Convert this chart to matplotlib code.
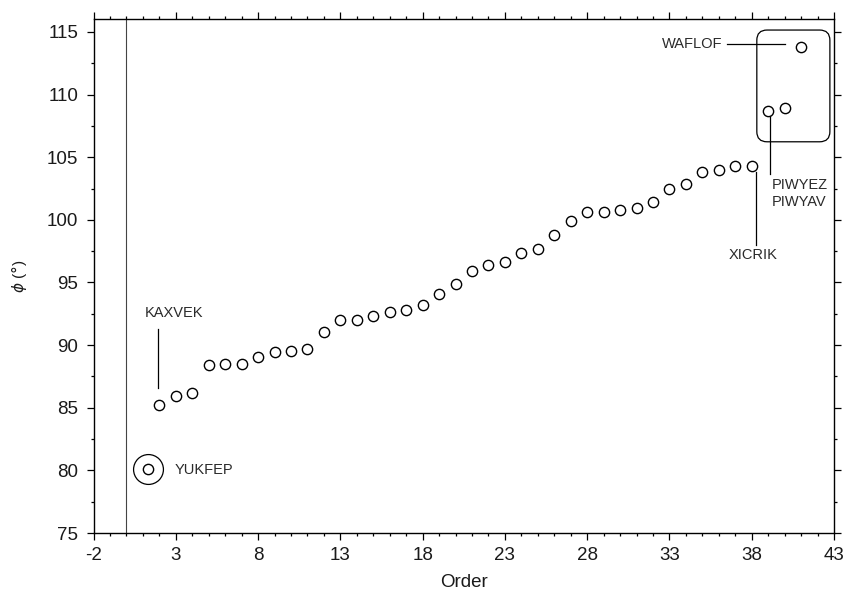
import matplotlib
matplotlib.use("Agg")
import matplotlib.pyplot as plt
import matplotlib.ticker as mticker
from matplotlib.patches import FancyBboxPatch
import numpy as np

plt.rcParams['font.family'] = ['Liberation Sans', 'DejaVu Sans']

# ---- data ----
order = list(range(2, 42))
phi = [85.20, 85.97, 86.21, 88.39, 88.50, 88.50, 89.01, 89.41, 89.54, 89.67,
       91.03, 92.04, 92.04, 92.31, 92.68, 92.83, 93.21, 94.07, 94.84, 95.94,
       96.36, 96.62, 97.36, 97.64, 98.75, 99.87, 100.64, 100.64, 100.78, 100.91,
       101.41, 102.43, 102.83, 103.81, 103.95, 104.31, 104.31, 108.68, 108.92, 113.82]
yukfep_order = 1.3
yukfep_phi = 80.14

x_ticks = list(range(-2, 44, 5))
y_ticks = list(range(75, 116, 5))

# labels: (text, text x, text y, ha, va, line x0, y0, x1, y1)
labels = [
    ("KAXVEK", 2.87, 92.6, "center", "center", 1.89, 91.25, 1.89, 86.6),
    ("XICRIK", 38.1, 97.2, "center", "center", 38.29, 103.83, 38.29, 98.0),
    ("PIWYEZ\nPIWYAV", 39.2, 102.1, "left", "center", 39.1, 108.4, 39.1, 103.65),
    ("WAFLOF", 36.25, 114.03, "right", "center", 36.52, 114.03, 40.03, 114.03),
    ("YUKFEP", 2.91, 80.06, "left", "center", None, None, None, None),
]

fig = plt.figure(figsize=(8.5, 5.96), dpi=100)
ax = fig.add_axes([93.5 / 850, 1 - 533 / 596, (834 - 93.5) / 850, (533 - 19.4) / 596])

ax.set_xlim(-2, 43)
ax.set_ylim(75, 116)

ax.plot(order, phi, linestyle='none', marker='o', markersize=7.4,
        markerfacecolor='white', markeredgecolor='black', markeredgewidth=1.0, zorder=3)
ax.plot([yukfep_order], [yukfep_phi], linestyle='none', marker='o', markersize=7.4,
        markerfacecolor='white', markeredgecolor='black', markeredgewidth=1.0, zorder=3)
ax.plot([yukfep_order], [yukfep_phi], linestyle='none', marker='o', markersize=21.5,
        markerfacecolor='none', markeredgecolor='black', markeredgewidth=0.9, zorder=3)

ax.axvline(0, color='#444444', linewidth=0.8)

for text, tx, ty, ha, va, x0, y0, x1, y1 in labels:
    ax.text(tx, ty, text, ha=ha, va=va, fontsize=10.5, color='#2a2a2a', linespacing=1.3)
    if x0 is not None:
        ax.plot([x0, x1], [y0, y1], color='black', linewidth=0.9)

box = FancyBboxPatch((38.31, 106.23), 42.75 - 38.31, 115.15 - 106.23,
                     boxstyle="round,pad=0,rounding_size=0.62", mutation_aspect=1.31,
                     facecolor='none', edgecolor='black', linewidth=0.9, zorder=2)
ax.add_patch(box)

ax.xaxis.set_major_locator(mticker.FixedLocator(x_ticks))
ax.xaxis.set_minor_locator(mticker.MultipleLocator(1))
ax.yaxis.set_major_locator(mticker.FixedLocator(y_ticks))
ax.yaxis.set_minor_locator(mticker.MultipleLocator(2.5))
ax.set_xticklabels([str(v) for v in x_ticks])
ax.set_yticklabels([str(v) for v in y_ticks])

ax.tick_params(which='both', direction='out', top=True, right=True, width=0.9,
               labelsize=13.5, colors='black', labelcolor='#1a1a1a')
ax.tick_params(which='major', length=5)
ax.tick_params(which='minor', length=2.5)
ax.tick_params(axis='x', which='major', pad=5)
ax.tick_params(axis='y', which='major', pad=6)
for s in ax.spines.values():
    s.set_linewidth(1.0)

ax.set_xlabel("Order", fontsize=13.5, labelpad=7, color='#1a1a1a')
ax.set_ylabel(r"$\phi$ ($\degree$)", fontsize=11, labelpad=13, color='#1a1a1a')

fig.savefig("out.png", dpi=100)
